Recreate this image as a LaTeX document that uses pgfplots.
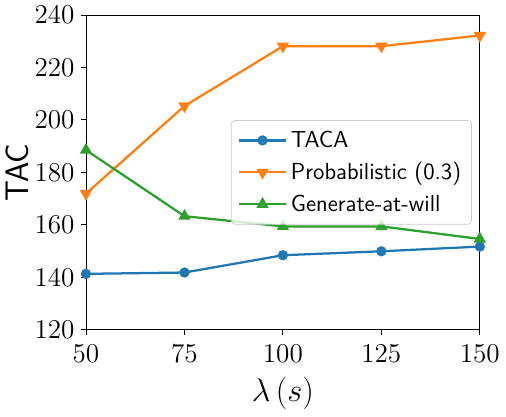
\documentclass[border=0pt]{standalone}
\usepackage{pgfplots}
\pgfplotsset{compat=1.18}
\definecolor{tabblue}{HTML}{1F77B4}
\definecolor{taborange}{HTML}{FF7F0E}
\definecolor{tabgreen}{HTML}{2CA02C}
\begin{document}
\begin{tikzpicture}
\begin{axis}[
  width=209pt, height=167pt, scale only axis,
  xmin=50, xmax=150, ymin=120, ymax=240,
  xtick={50,75,100,125,150},
  ytick={120,140,160,180,200,220,240},
  xtick pos=left, ytick pos=left,
  tick align=outside, major tick length=2.6pt,
  tick style={black, line width=0.45pt},
  tick label style={font=\Large},
  xticklabel style={yshift=-2pt},
  axis line style={line width=0.45pt},
  xlabel={$\lambda\,(s)$}, ylabel={\sffamily TAC},
  label style={font=\LARGE},
  xlabel style={yshift=-1pt},
  ylabel style={yshift=-4pt},
  legend style={at={(0.98,0.5)}, anchor=east, font=\sffamily\fontsize{12.3}{14.5}\selectfont,
    draw=black!20, fill=white, fill opacity=0.8, text opacity=1, rounded corners=2pt,
    row sep=2.5pt, inner sep=3.5pt},
  legend cell align=left,
  legend image code/.code={\draw[mark repeat=2,mark phase=2,#1] plot coordinates {(0pt,0pt) (12.5pt,0pt) (25pt,0pt)};},
  every axis plot/.append style={line width=1.2pt},
  clip=false,
]
\addplot[tabblue, mark=*, mark size=2.1pt] coordinates {(50,141.3) (75,141.8) (100,148.4) (125,149.9) (150,151.7)};
\addlegendentry{TACA}
\addplot[taborange, mark=triangle*, mark size=2.6pt, mark options={rotate=180}] coordinates {(50,171.9) (75,205.3) (100,228.1) (125,228.1) (150,232.2)};
\addlegendentry{Probabilistic (0.3)}
\addplot[tabgreen, mark=triangle*, mark size=2.6pt] coordinates {(50,188.5) (75,163.3) (100,159.4) (125,159.4) (150,154.6)};
\addlegendentry{Generate-at-will}
\end{axis}
\end{tikzpicture}
\end{document}
